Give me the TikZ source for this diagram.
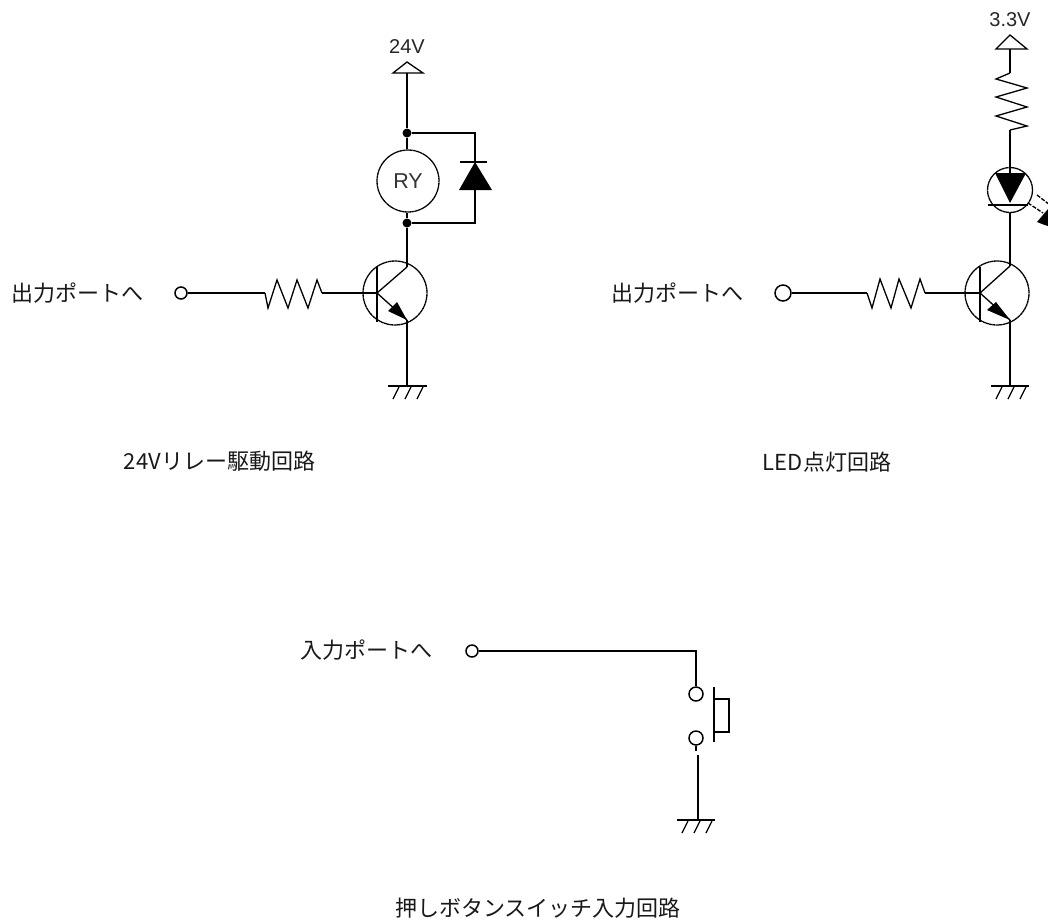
\documentclass[tikz,border=0pt]{standalone}
\usepackage{fontspec}
\setmainfont{Liberation Sans}
\newfontfamily\cjk{Noto Sans CJK JP}
\begin{document}
\begin{tikzpicture}[x=1pt,y=-1pt,line width=1.4pt,
  wire/.style={draw=black,line width=1.5pt},
  thin part/.style={draw=black,line width=1.3pt},
  term/.style={circle,draw=black,fill=white,line width=1.5pt,minimum size=12pt,inner sep=0pt},
  dot/.style={circle,fill=black,draw=none,minimum size=9pt,inner sep=0pt},
  ring/.style={circle,draw=black,line width=1.3pt,dash pattern=on 3pt off 0.4pt,fill=none,inner sep=0pt},
  lbl/.style={font=\cjk\fontsize{22}{22}\selectfont,text=black!90,inner sep=0pt,anchor=center},
  vlbl/.style={font=\fontsize{20}{20}\selectfont,text=black!85,inner sep=0pt,anchor=center},
  rylbl/.style={font=\fontsize{21.5}{22}\selectfont,text=black!80,inner sep=0pt,anchor=center}]
\useasboundingbox (0,0) rectangle (1048,919);
\clip (0,0) rectangle (1048,919);
% ---------- left circuit ----------
\node[lbl] (l1) at (77.5,293) {出力ポートへ};
\node[term] (t1) at (181,293) {};
\coordinate (r1a) at (265,293);
\coordinate (r1b) at (322,293);
\node[ring,minimum size=64pt] (q1) at (395,293) {};
\coordinate (q1b) at (377,293);
\coordinate (q1c) at (407,267);
\coordinate (q1e) at (407,320);
\draw[wire] (t1) -- (r1a);
\draw[thin part] (r1a) -- (268,308) -- (277,280) -- (288,308) -- (297,280) -- (308,308) -- (317,280) -- (r1b);
\draw[wire] (r1b) -- (q1b);
\draw[wire] (377,267) -- (377,322);
\draw[thin part] (q1b) -- (q1c);
\draw[thin part] (q1b) -- (q1e);
\fill (q1e) -- (388,311) -- (397,302) -- cycle;
\node[vlbl] (v1) at (407,47) {24V};
\coordinate (p1) at (407,73);
\draw[thin part,fill=white] (393,73) -- (407,62) -- (423,73) -- cycle;
\node[dot] (j1) at (407,133) {};
\node[dot] (j2) at (407,223) {};
\node[ring,minimum size=62pt,rylbl] (ry) at (408,181) {RY};
\draw[wire] (p1) -- (j1);
\draw[wire] (j1) -- (j1 |- ry.north);
\draw[wire] (j2 |- ry.south) -- (j2);
\draw[wire] (j2) -- (q1c);
\coordinate (da) at (475,162);
\coordinate (dk) at (475,190);
\draw[wire] (j1) -| (da);
\draw[wire] (j2) -| (dk);
\fill (459,190) -- (475,162) -- (492,190) -- cycle;
\draw[wire] (460,162) -- (487,162);
\draw[wire] (q1e) -- (407,386);
\draw[thin part] (388,386) -- (427,386);
\foreach \x in {395,407,419} \draw[thin part] (\x+4,387) -- (\x-2,399);
\node[lbl] (c1) at (219.5,461) {24Vリレー駆動回路};
% ---------- right circuit ----------
\node[lbl] (l2) at (677.5,293) {出力ポートへ};
\node[term,minimum size=16pt] (t2) at (783,293) {};
\coordinate (r2a) at (867,293);
\coordinate (r2b) at (925,293);
\node[ring,minimum size=64pt] (q2) at (997,293) {};
\coordinate (q2b) at (980,293);
\coordinate (q2c) at (1010,266);
\coordinate (q2e) at (1010,320);
\draw[wire] (t2) -- (r2a);
\draw[thin part] (r2a) -- (872,308) -- (880,279) -- (891,308) -- (899,279) -- (911,308) -- (920,279) -- (r2b);
\draw[wire] (r2b) -- (q2b);
\draw[wire] (980,267) -- (980,322);
\draw[thin part] (q2b) -- (q2c);
\draw[thin part] (q2b) -- (q2e);
\fill (q2e) -- (987,310) -- (996,302) -- cycle;
\node[vlbl] (v2) at (1010,20) {3.3V};
\coordinate (p2) at (1010,49);
\draw[thin part,fill=white] (996,49) -- (1010,35) -- (1027,49) -- cycle;
\coordinate (r3a) at (1010,73);
\coordinate (r3b) at (1010,130);
\draw[wire] (p2) -- (r3a);
\draw[thin part] (r3a) -- (996,79) -- (1027,88) -- (996,97) -- (1027,107) -- (996,116) -- (1027,126) -- (r3b);
\node[ring,minimum size=45pt] (led) at (1010,190) {};
\draw[wire] (r3b) -- (led.north);
\fill (995,173) -- (1026,173) -- (1010,203) -- cycle;
\draw[wire] (988,205) -- (1028,205);
\draw[wire] (1010,167) -- (1010,173);
\draw[wire] (led.south) -- (q2c);
\draw[thin part,dash pattern=on 4pt off 1.5pt] (1028,203) -- (1043,213);
\draw[thin part,dash pattern=on 4pt off 1.5pt] (1037,195) -- (1050,205);
\fill (1037,222) -- (1048,209) -- (1048,226) -- (1042,224) -- cycle;
\draw[wire] (q2e) -- (1010,386);
\draw[thin part] (991,386) -- (1029,386);
\foreach \x in {998,1010,1022} \draw[thin part] (\x+4,387) -- (\x-2,399);
\node[lbl] (c2) at (827,462) {LED点灯回路};
% ---------- bottom circuit ----------
\node[lbl] (l3) at (366,650) {入力ポートへ};
\node[term] (t3) at (472,651) {};
\node[term,minimum size=14pt] (s1) at (696,694) {};
\node[term,minimum size=14pt] (s2) at (696,738) {};
\coordinate (sw1) at (696,651);
\draw[wire] (t3) -- (sw1) -- (s1);
\coordinate (s2stub) at (696,751);
\draw[wire] (s2) -- (s2stub);
\coordinate (g3t) at (698,755);
\coordinate (g3) at (698,820);
\draw[wire] (g3t) -- (g3);
\draw[thin part] (677,820) -- (715,820);
\foreach \x in {684,696,708} \draw[thin part] (\x+4,821) -- (\x-2,833);
\draw[wire] (714,687) -- (714,742);
\draw[wire] (714,699) -- (729,699) -- (729,732) -- (714,732);
\node[lbl] (c3) at (538,908) {押しボタンスイッチ入力回路};
\end{tikzpicture}
\end{document}
